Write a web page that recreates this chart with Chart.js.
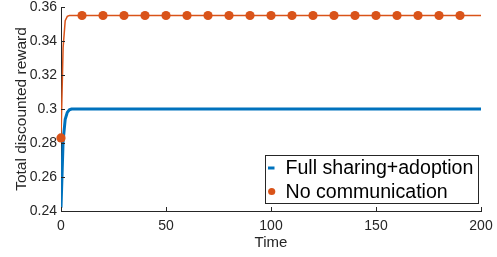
<!DOCTYPE html>
<html>
<head>
<meta charset="utf-8">
<script src="https://cdn.jsdelivr.net/npm/chart.js@4"></script>
<style>
  html, body { margin: 0; padding: 0; background: #fff; }
  #wrap { width: 497px; height: 257px; }
</style>
</head>
<body>
<div id="wrap"><canvas id="rewardChart" width="497" height="257"></canvas></div>
<script>
// values
const fullTime = [0, 1, 2, 3, 4, 5, 200];
const fullReward = [0.242, 0.281, 0.294, 0.298, 0.2995, 0.3, 0.3];

const noCommTime = [0, 1, 2, 3, 4, 200];
const noCommReward = [0.283, 0.336, 0.352, 0.3545, 0.355, 0.355];

const markerTime = [0, 10, 20, 30, 40, 50, 60, 70, 80, 90, 100, 110, 120, 130, 140, 150, 160, 170, 180, 190];
const markerReward = [0.283, 0.355, 0.355, 0.355, 0.355, 0.355, 0.355, 0.355, 0.355, 0.355,
  0.355, 0.355, 0.355, 0.355, 0.355, 0.355, 0.355, 0.355, 0.355, 0.355];

const xTicks = [0, 50, 100, 150, 200];
const xTickLabels = ["0", "50", "100", "150", "200"];
const yTicks = [0.24, 0.26, 0.28, 0.3, 0.32, 0.34, 0.36];
const yTickLabels = ["0.24", "0.26", "0.28", "0.3", "0.32", "0.34", "0.36"];

const BLUE = "#0072BD";
const ORANGE = "#D95319";
const AXIS = "#262626";
const FONT = "'Liberation Sans', Arial, Helvetica, sans-serif";

function pts(xs, ys) {
  return xs.map((x, i) => ({ x: x, y: ys[i] }));
}

// matlab style: ticks pointing into the axes
const inwardTicks = {
  id: "inwardTicks",
  afterDraw(chart) {
    const ctx = chart.ctx;
    const xs = chart.scales.x, ys = chart.scales.y;
    const area = chart.chartArea;
    ctx.save();
    ctx.strokeStyle = AXIS;
    ctx.lineWidth = 1;
    xTicks.forEach(v => {
      const px = Math.round(xs.getPixelForValue(v)) + 0.5;
      ctx.beginPath();
      ctx.moveTo(px, area.bottom);
      ctx.lineTo(px, area.bottom - 4);
      ctx.stroke();
    });
    yTicks.forEach(v => {
      const py = Math.round(ys.getPixelForValue(v)) + 0.5;
      ctx.beginPath();
      ctx.moveTo(area.left, py);
      ctx.lineTo(area.left + 4, py);
      ctx.stroke();
    });
    ctx.restore();
  }
};

// legend box in the lower right of the axes
const boxLegend = {
  id: "boxLegend",
  afterDraw(chart) {
    const ctx = chart.ctx;
    const items = chart.data.datasets
      .filter(d => d.legendPos !== undefined)
      .sort((a, b) => a.legendPos - b.legendPos);
    const w = 213, rowH = 23.5;
    const h = items.length * rowH + 1;
    const x0 = 265;
    const y0 = 155;
    ctx.save();
    ctx.fillStyle = "#fff";
    ctx.fillRect(x0, y0, w, h);
    ctx.strokeStyle = AXIS;
    ctx.lineWidth = 1;
    ctx.strokeRect(x0 + 0.5, y0 + 0.5, w, h);
    ctx.font = "19.6px " + FONT;
    ctx.textBaseline = "middle";
    items.forEach((d, i) => {
      const cy = y0 + 13 + i * rowH;
      if (d.showLine === false) {
        ctx.fillStyle = d.pointBackgroundColor;
        ctx.beginPath();
        ctx.arc(x0 + 6.7, cy, 3.6, 0, Math.PI * 2);
        ctx.fill();
      } else {
        ctx.strokeStyle = d.borderColor;
        ctx.lineWidth = d.borderWidth;
        ctx.beginPath();
        ctx.moveTo(x0 + 3, cy);
        ctx.lineTo(x0 + 9.5, cy);
        ctx.stroke();
      }
      ctx.fillStyle = "#000";
      ctx.fillText(d.label, x0 + 20.5, cy + 1);
    });
    ctx.restore();
  }
};

const ctx = document.getElementById("rewardChart").getContext("2d");

const rewardChart = new Chart(ctx, {
  type: "scatter",
  data: {
    datasets: [
      {
        label: "No communication",
        legendPos: 1,
        data: pts(markerTime, markerReward),
        showLine: false,
        pointRadius: 4.6,
        pointBackgroundColor: ORANGE,
        pointBorderColor: ORANGE,
        pointBorderWidth: 0,
        clip: false,
        order: 0
      },
      {
        label: "No communication line",
        data: pts(noCommTime, noCommReward),
        showLine: true,
        borderColor: ORANGE,
        borderWidth: 1.5,
        pointRadius: 0,
        tension: 0,
        order: 1
      },
      {
        label: "Full sharing+adoption",
        legendPos: 0,
        data: pts(fullTime, fullReward),
        showLine: true,
        borderColor: BLUE,
        borderWidth: 3,
        pointRadius: 0,
        tension: 0,
        order: 2
      }
    ]
  },
  options: {
    responsive: false,
    animation: false,
    layout: { padding: { left: 0, right: 16, top: 7, bottom: 0 } },
    scales: {
      x: {
        type: "linear",
        min: 0,
        max: 200,
        afterBuildTicks: s => { s.ticks = xTicks.map(v => ({ value: v })); },
        afterFit: s => { s.height = 46; s.paddingLeft = 0; s.paddingRight = 0; },
        grid: { display: false, drawTicks: false },
        border: { display: true, color: AXIS, width: 1 },
        ticks: {
          color: AXIS,
          padding: 7,
          maxRotation: 0,
          font: { family: FONT, size: 14 },
          callback: (v) => xTickLabels[xTicks.indexOf(v)]
        },
        title: {
          display: true,
          text: "Time",
          color: AXIS,
          padding: { top: 0, bottom: 5 },
          font: { family: FONT, size: 15 }
        }
      },
      y: {
        type: "linear",
        min: 0.24,
        max: 0.36,
        afterBuildTicks: s => { s.ticks = yTicks.map(v => ({ value: v })); },
        afterFit: s => { s.width = 61; s.paddingTop = 0; s.paddingBottom = 0; },
        grid: { display: false, drawTicks: false },
        border: { display: true, color: AXIS, width: 1 },
        ticks: {
          color: AXIS,
          padding: 4,
          font: { family: FONT, size: 14 },
          callback: (v) => yTickLabels[yTicks.findIndex(t => Math.abs(t - v) < 1e-9)]
        },
        title: {
          display: true,
          text: "Total discounted reward",
          color: AXIS,
          padding: { top: 12, bottom: 0 },
          font: { family: FONT, size: 15.5 }
        }
      }
    },
    plugins: {
      legend: { display: false },
      tooltip: { enabled: false }
    }
  },
  plugins: [inwardTicks, boxLegend]
});
</script>
</body>
</html>
